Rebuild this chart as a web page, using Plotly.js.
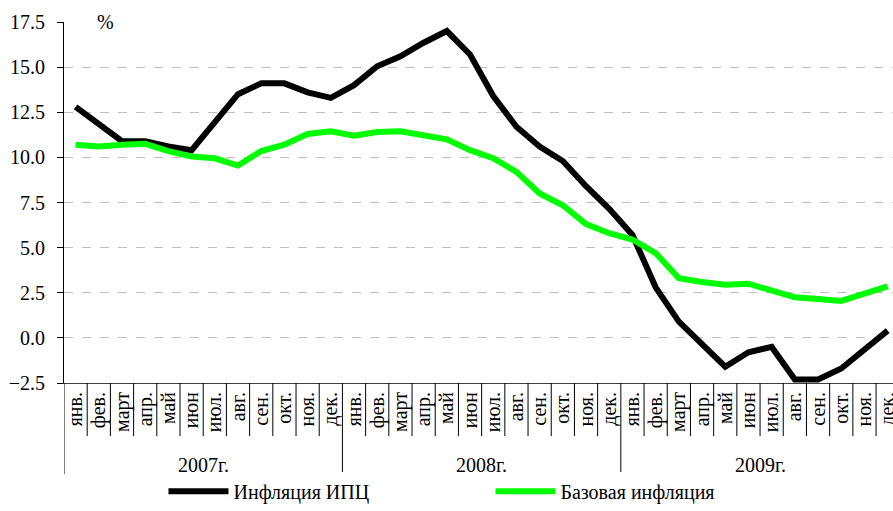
<!DOCTYPE html>
<html>
<head>
<meta charset="utf-8">
<script src="https://cdn.plot.ly/plotly-3.0.1.min.js"></script>
<style>
  html, body { margin: 0; padding: 0; background: #fff; }
  #chart { width: 893px; height: 511px; }
  #chart text { font-family: 'Liberation Serif', serif !important; }
</style>
</head>
<body>
<div id="chart"></div>
<script>
// Данные
const months = ['янв.', 'фев.', 'март', 'апр.', 'май', 'июн', 'июл.', 'авг.', 'сен.', 'окт.', 'ноя.', 'дек.'];
const years = ['2007г.', '2008г.', '2009г.'];

const cpiInflation = [12.8, 11.9, 10.9, 10.9, 10.6, 10.4, 12.0, 13.5, 14.1, 14.1, 13.6, 13.3,
  14.0, 15.05, 15.6, 16.35, 17.0, 15.7, 13.4, 11.7, 10.6, 9.8, 8.4, 7.15,
  5.7, 2.8, 0.9, -0.4, -1.6, -0.8, -0.5, -2.3, -2.3, -1.7, -0.6, 0.4];

const coreInflation = [10.7, 10.6, 10.7, 10.75, 10.35, 10.05, 9.95, 9.55, 10.35, 10.7, 11.3, 11.45,
  11.2, 11.4, 11.45, 11.2, 11.0, 10.4, 9.95, 9.2, 8.0, 7.35, 6.3, 5.8,
  5.45, 4.7, 3.3, 3.1, 2.95, 3.0, 2.6, 2.25, 2.15, 2.05, 2.45, 2.85];

const seriesNames = ['Инфляция ИПЦ', 'Базовая инфляция'];

// Ось X: индексы месяцев
const tickText = [];
years.forEach(() => months.forEach(m => tickText.push(m)));
const xIdx = tickText.map((_, i) => i);

const fontFam = 'Liberation Serif';
const txtFont = { family: fontFam, size: 20, color: '#000000' };

const traces = [
  {
    x: xIdx, y: cpiInflation, mode: 'lines', name: seriesNames[0],
    line: { color: '#000000', width: 6 }
  },
  {
    x: xIdx, y: coreInflation, mode: 'lines', name: seriesNames[1],
    line: { color: '#00ff00', width: 6 }
  }
];

// Разделители под осью
const shapes = [];
const sepShort = -0.147, sepLong = -0.253;
for (let i = 0; i < tickText.length; i++) {
  const b = i - 0.5;
  const isYear = i % months.length === 0;
  shapes.push({
    type: 'line', xref: 'x', yref: 'paper',
    x0: b, x1: b, y0: 0, y1: isYear ? sepLong : sepShort,
    line: { color: '#000000', width: 1 }
  });
}

// Подписи годов
const annotations = years.map((yr, k) => ({
  x: k * months.length + (months.length - 1) / 2,
  y: -0.226, xref: 'x', yref: 'paper',
  text: yr, showarrow: false, yanchor: 'middle',
  font: txtFont
}));
annotations.push({
  x: 1.3, y: 17.5, xref: 'x', yref: 'y',
  text: '%', showarrow: false, yanchor: 'middle',
  font: txtFont
});

const layout = {
  width: 893,
  height: 511,
  margin: { l: 64, r: 0, t: 22, b: 122 },
  paper_bgcolor: '#ffffff',
  plot_bgcolor: '#ffffff',
  font: txtFont,
  showlegend: true,
  legend: {
    orientation: 'h',
    x: 0.12, y: -0.3,
    xanchor: 'left', yanchor: 'middle',
    entrywidth: 252,
    itemwidth: 60,
    font: txtFont
  },
  xaxis: {
    range: [-0.5, 35.23],
    tickmode: 'array',
    tickvals: xIdx,
    ticktext: tickText,
    tickangle: -90,
    ticks: '',
    ticklabeloverflow: 'allow',
    showgrid: false,
    zeroline: false,
    showline: true,
    linecolor: '#404040',
    linewidth: 1,
    tickfont: txtFont
  },
  yaxis: {
    range: [-2.5, 17.5],
    tick0: -2.5,
    dtick: 2.5,
    tickformat: '.1f',
    ticks: 'outside',
    ticklen: 6,
    tickcolor: '#000',
    ticklabelstandoff: 8,
    showline: true,
    linecolor: '#000',
    linewidth: 1,
    showgrid: true,
    gridcolor: '#c0c0c0',
    griddash: 'dash',
    zeroline: false,
    tickfont: txtFont
  },
  shapes: shapes,
  annotations: annotations
};

Plotly.newPlot('chart', traces, layout, { displayModeBar: false, staticPlot: true });
</script>
</body>
</html>
